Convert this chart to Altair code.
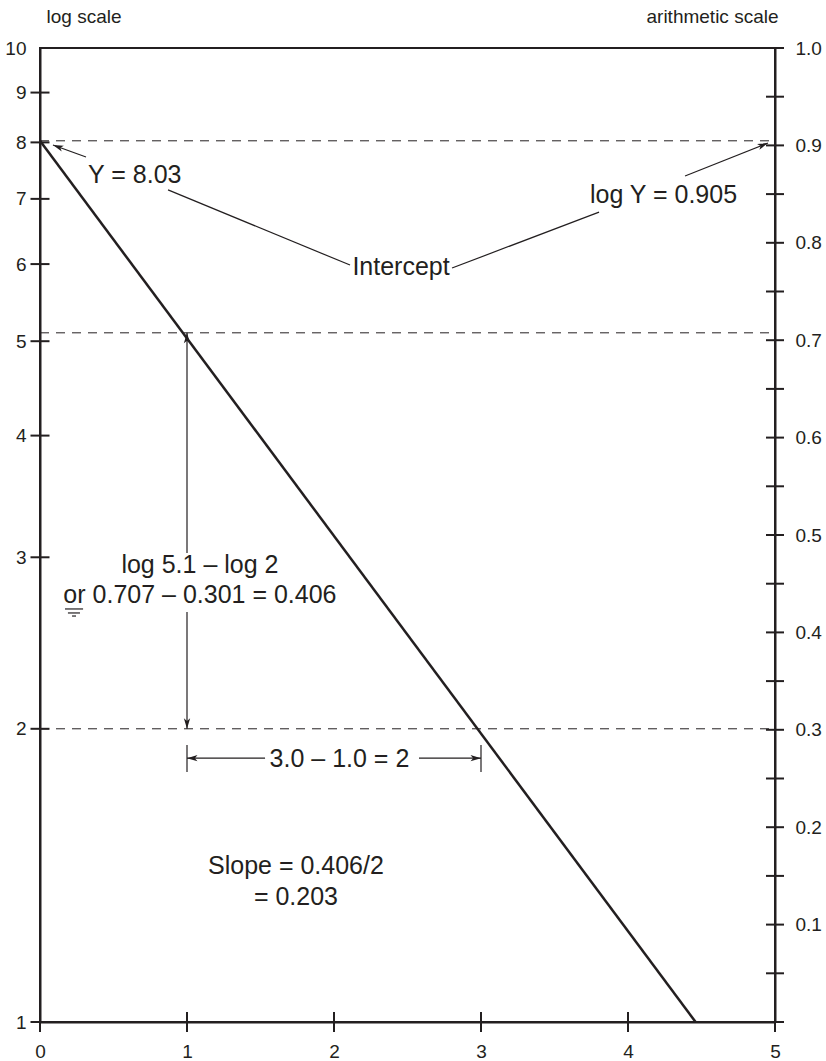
import altair as alt
import pandas as pd

INK = "#231f20"
FONT = "Liberation Sans"

# Axis ticks and labels
x_ticks = [0, 1, 2, 3, 4, 5]
log_ticks = [1, 2, 3, 4, 5, 6, 7, 8, 9]
log_labels = [1, 2, 3, 4, 5, 6, 7, 8, 9, 10]
arith_ticks = [0.0, 0.05, 0.1, 0.15, 0.2, 0.25, 0.3, 0.35, 0.4, 0.45, 0.5,
               0.55, 0.6, 0.65, 0.7, 0.75, 0.8, 0.85, 0.9, 0.95, 1.0]
arith_labels = [0.1, 0.2, 0.3, 0.4, 0.5, 0.6, 0.7, 0.8, 0.9, 1.0]

# Fitted line: log Y = 0.905 - 0.203 X, from the intercept down to Y = 1
fit_x = [0.0, 4.46]
fit_y = [8.03, 1.0]

# Dashed reference levels
guide_y = [8.03, 5.1, 2.0]

# Annotation text (x, y in data units)
left_text = ["Y = 8.03", "log Y = 0.905"]
left_text_x = [0.327, 3.741]
left_text_y = [7.27, 6.93]

center_text = ["Intercept", "log 5.1 \u2013 log 2", "or 0.707 \u2013 0.301 = 0.406",
               "3.0 \u2013 1.0 = 2", "Slope = 0.406/2", "= 0.203"]
center_text_x = [2.456, 1.088, 1.088, 2.037, 1.741, 1.741]
center_text_y = [5.85, 2.89, 2.69, 1.827, 1.419, 1.319]

# Leader lines and dimension arrows (segment end points)
seg_x = [0.871, 2.803, 4.388, 0.313, 1.0, 1.0, 1.0, 2.578, 1.0, 3.0, 0.170, 0.190, 0.218]
seg_y = [7.150, 5.944, 7.389, 7.728, 5.1, 2.636, 1.866, 1.866, 1.806, 1.806, 2.655, 2.630, 2.611]
seg_x2 = [2.109, 3.803, 4.952, 0.088, 1.0, 1.0, 1.531, 3.0, 1.0, 3.0, 0.293, 0.272, 0.245]
seg_y2 = [5.986, 6.785, 7.988, 7.95, 3.03, 2.0, 1.866, 1.866, 1.925, 1.925, 2.655, 2.630, 2.611]

# Arrow tips and their headings (degrees, clockwise)
tip_x = [0.088, 4.952, 1.0, 1.0, 1.0, 3.0]
tip_y = [7.95, 7.988, 5.1, 2.0, 1.866, 1.866]
tip_angle = [200, 338, 270, 90, 180, 0]

ARROW = "M0,0 L-2,-0.6 L-1.5,0 L-2,0.6 Z"

x_scale = alt.Scale(domain=[0, 5], nice=False, zero=False)
log_scale = alt.Scale(type="log", domain=[1, 10], nice=False)
lin_scale = alt.Scale(domain=[0, 1], nice=False, zero=False)

x_axis = alt.Axis(values=x_ticks, title="", labelFlush=False, labelPadding=20,
                  labelOverlap=False)
left_axis = alt.Axis(values=log_labels, orient="left", format="d", labelPadding=14,
                     labelOverlap=False, labelFlush=False,
                     title="log scale", titleAngle=0, titleAlign="left",
                     titleBaseline="alphabetic", titleX=6, titleY=-26)
right_axis = alt.Axis(values=arith_labels, orient="right", format=".1f", labelPadding=20,
                      labelOverlap=False, labelFlush=False,
                      title="arithmetic scale", titleAngle=0, titleAlign="right",
                      titleBaseline="alphabetic", titleX=3, titleY=-26)


def X(field="x"):
    return alt.X(f"{field}:Q", scale=x_scale, axis=x_axis)


def YL(field="y"):
    return alt.Y(f"{field}:Q", scale=log_scale, axis=left_axis)


fit = alt.Chart(pd.DataFrame({"x": fit_x, "y": fit_y})).mark_line(
    color=INK, strokeWidth=2.5
).encode(x=X(), y=YL())

guides = alt.Chart(pd.DataFrame({"y": guide_y, "x": [0] * 3, "x2": [5] * 3})).mark_rule(
    color=INK, strokeWidth=1, strokeDash=[9, 7]
).encode(x=X(), x2="x2:Q", y=YL())

segs = alt.Chart(pd.DataFrame({"x": seg_x, "y": seg_y, "x2": seg_x2, "y2": seg_y2})).mark_rule(
    color=INK, strokeWidth=1.2
).encode(x=X(), x2="x2:Q", y=YL(), y2="y2:Q")

tips = alt.Chart(pd.DataFrame({"x": tip_x, "y": tip_y, "a": tip_angle})).mark_point(
    shape=ARROW, filled=True, color=INK, size=110, opacity=1, strokeWidth=0
).encode(x=X(), y=YL(), angle=alt.Angle("a:Q", scale=None))

txt_left = alt.Chart(pd.DataFrame({"x": left_text_x, "y": left_text_y, "t": left_text})).mark_text(
    align="left", baseline="alphabetic", font=FONT, fontSize=25, color=INK
).encode(x=X(), y=YL(), text="t:N")

txt_center = alt.Chart(pd.DataFrame({"x": center_text_x, "y": center_text_y, "t": center_text})).mark_text(
    align="center", baseline="alphabetic", font=FONT, fontSize=25, color=INK
).encode(x=X(), y=YL(), text="t:N")

left_ticks = alt.Chart(pd.DataFrame({"x": [0] * len(log_ticks), "y": log_ticks})).mark_tick(
    orient="horizontal", size=19, thickness=2, color=INK, opacity=1
).encode(x=X(), y=YL())

bottom_ticks = alt.Chart(pd.DataFrame({"x": x_ticks, "y": [1] * len(x_ticks)})).mark_tick(
    orient="vertical", size=20, thickness=2, color=INK, opacity=1
).encode(x=X(), y=YL())

left_group = alt.layer(guides, fit, segs, tips, txt_left, txt_center, left_ticks, bottom_ticks)

right_ticks = alt.Chart(pd.DataFrame({"x": [5] * len(arith_ticks), "v": arith_ticks})).mark_tick(
    orient="horizontal", size=18, thickness=2, color=INK, opacity=1
).encode(x=X(), y=alt.Y("v:Q", scale=lin_scale, axis=right_axis))

chart = alt.layer(left_group, right_ticks).resolve_scale(y="independent").properties(
    width=735, height=974,
    autosize=alt.AutoSizeParams(type="none"),
    padding={"left": 40, "top": 48, "right": 51, "bottom": 39},
    background="white",
).configure_view(
    stroke=INK, strokeWidth=2
).configure_axis(
    grid=False, ticks=False, domainColor=INK, domainWidth=2,
    labelColor=INK, labelFont=FONT, labelFontSize=19,
    titleColor=INK, titleFont=FONT, titleFontSize=19, titleFontWeight="normal",
)

chart.save("out.html", embed_options={"renderer": "svg", "actions": False})
